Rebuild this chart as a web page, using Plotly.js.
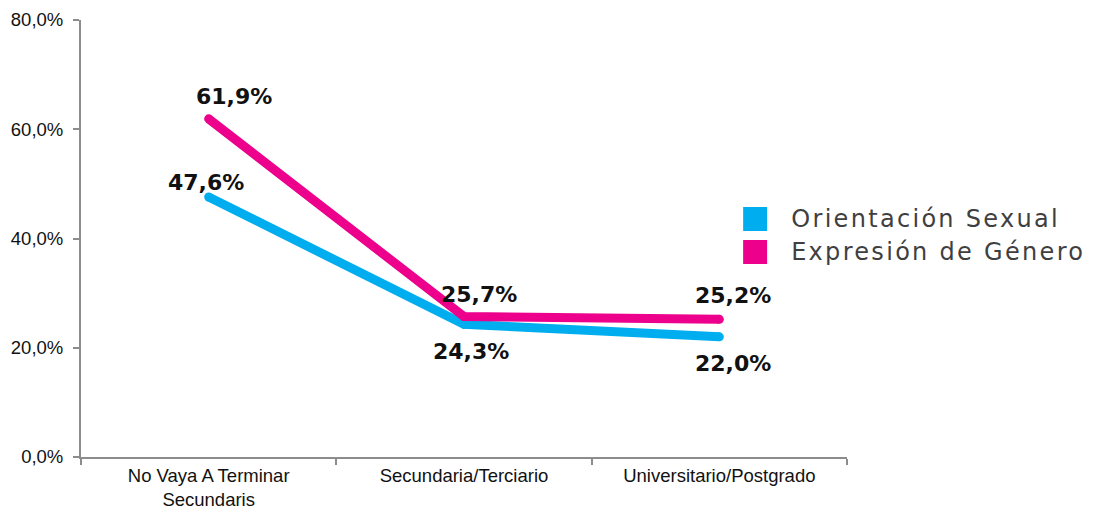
<!DOCTYPE html>
<html>
<head>
<meta charset="utf-8">
<script src="https://cdn.plot.ly/plotly-3.0.1.min.js"></script>
<style>
html,body{margin:0;padding:0;background:#fff}#chart{width:1097px;height:513px}
.annotation[data-index="6"] text, .annotation[data-index="7"] text{letter-spacing:2.3px}
</style>
</head>
<body>
<div id="chart"></div>
<script>
const categories = ["No Vaya A Terminar<br>Secundaris", "Secundaria/Terciario", "Universitario/Postgrado"];
const seriesNames = ["Orientación Sexual", "Expresión de Género"];
const orientacion = [47.6, 24.3, 22.0];
const expresion = [61.9, 25.7, 25.2];
const yTicks = [0, 20, 40, 60, 80];
const colors = ["#00AEEF", "#EC008C"];

const fmt = v => v.toFixed(1).replace(".", ",") + "%";

const traces = [orientacion, expresion].map((vals, i) => ({
  type: "scatter",
  mode: "lines+markers",
  x: categories,
  y: vals,
  name: seriesNames[i],
  showlegend: false,
  line: {color: colors[i], width: 9},
  marker: {color: colors[i], size: 9},
  hoverinfo: "skip"
}));

// label offsets (pixels) per point
const offB = [[-3, -14], [7, 27], [14, 27]];
const offP = [[25, -22], [15, -22], [14, -24]];
const annotations = [];
[[orientacion, offB], [expresion, offP]].forEach(([vals, off]) => {
  vals.forEach((v, j) => {
    annotations.push({
      x: categories[j], y: v, xref: "x", yref: "y",
      text: "<b>" + fmt(v) + "</b>", showarrow: false,
      xshift: off[j][0], yshift: -off[j][1],
      font: {family: "'DejaVu Sans', sans-serif", size: 22, color: "#111"}
    });
  });
});
// legend (custom squares + text)
const LS = 2.3;
const shapes = [];
seriesNames.forEach((n, i) => {
  const top = 207 + i * 33;
  shapes.push({type: "rect", xref: "paper", yref: "paper",
    x0: (744 - 81) / 767, x1: (768 - 81) / 767,
    y0: (457 - (top + 24)) / 437, y1: (457 - top) / 437,
    fillcolor: colors[i], line: {width: 0}});
  annotations.push({xref: "paper", yref: "paper",
    x: (790 - 81) / 767, y: (457 - (top + 12)) / 437,
    xshift: n.length * LS / 2,
    xanchor: "left", yanchor: "middle", showarrow: false, text: n,
    font: {family: "'DejaVu Sans', sans-serif", size: 24, color: "#3f3f3f"}});
});

const layout = {
  width: 1097, height: 513,
  margin: {l: 81, r: 250, t: 20, b: 56},
  separators: ",.",
  paper_bgcolor: "#fff", plot_bgcolor: "#fff",
  showlegend: false,
  xaxis: {
    type: "category", range: [-0.5, 2.5], tickson: "boundaries",
    showline: true, linecolor: "#8c8c8c", linewidth: 2,
    ticks: "outside", ticklen: 6, tickcolor: "#8c8c8c", tickwidth: 2,
    ticklabelstandoff: 1,
    showgrid: false, zeroline: false,
    tickfont: {family: "'Liberation Sans', Arial, sans-serif", size: 18.5, color: "#111"}
  },
  yaxis: {
    range: [0, 80], tickvals: yTicks, ticktext: yTicks.map(v => v.toFixed(1).replace(".", ",") + "%"),
    showline: true, linecolor: "#8c8c8c", linewidth: 2,
    ticks: "outside", ticklen: 6, tickcolor: "#8c8c8c", tickwidth: 2,
    ticklabelstandoff: 6,
    showgrid: false, zeroline: false,
    tickfont: {family: "'Liberation Sans', Arial, sans-serif", size: 18.5, color: "#111"}
  },
  annotations: annotations,
  shapes: shapes
};

Plotly.newPlot("chart", traces, layout, {staticPlot: true, displayModeBar: false});
</script>
</body>
</html>
